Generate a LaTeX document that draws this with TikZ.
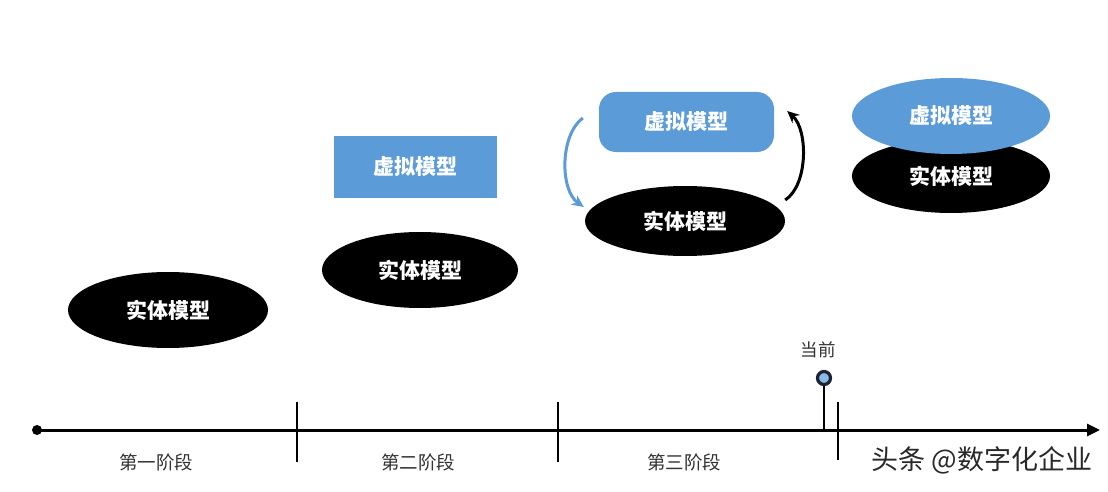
\documentclass[tikz,border=0pt]{standalone}
\usepackage{fontspec}
\setmainfont{Noto Sans CJK SC}
\usetikzlibrary{shapes.geometric,arrows.meta}
\definecolor{mblue}{HTML}{5B9BD8}
\definecolor{labgray}{HTML}{333333}
\definecolor{navy}{HTML}{1C2333}
\tikzset{
  realm/.style={ellipse, fill=black, text=white, minimum width=200pt, minimum height=76pt, inner sep=0pt, font=\fontsize{21}{21}\selectfont\bfseries},
  virt/.style={fill=mblue, text=white, inner sep=0pt, font=\fontsize{21}{21}\selectfont\bfseries},
  stagelab/.style={text=labgray, font=\fontsize{18.5}{18.5}\selectfont},
  axisline/.style={line width=3pt, -{Triangle[length=13pt,width=12pt]}},
  tick/.style={line width=2pt},
  loopar/.style={line width=3pt, -{Stealth[length=12pt,width=11pt]}},
}
\begin{document}
\begin{tikzpicture}[x=1pt,y=-1pt]
\useasboundingbox (0,0) rectangle (1108,492);
\fill[white] (0,0) rectangle (1108,492);

% timeline
\coordinate (tstart) at (37,430);
\coordinate (tend) at (1100,430);
\draw[axisline] (tstart) -- (tend);
\fill (tstart) circle (5pt);
\coordinate (t1a) at (297,402); \coordinate (t1b) at (297,462);
\coordinate (t2a) at (558,402); \coordinate (t2b) at (558,462);
\coordinate (t3a) at (838,402); \coordinate (t3b) at (838,460);
\draw[tick] (t1a) -- (t1b);
\draw[tick] (t2a) -- (t2b);
\draw[tick] (t3a) -- (t3b);

\node[stagelab] (s1) at (156,462) {第一阶段};
\node[stagelab] (s2) at (418,462) {第二阶段};
\node[stagelab] (s3) at (684,462) {第三阶段};

% current marker
\coordinate (cbase) at (824,430);
\node[circle, draw=navy, line width=3.2pt, fill=mblue!70!white, minimum size=13pt, inner sep=0pt] (cur) at (824,378) {};
\draw[line width=2pt] (cur.south) -- (cbase);
\node[stagelab, font=\fontsize{17.5}{17.5}\selectfont] (curlab) at (818,350) {当前};

% stage 1
\node[realm] (e1) at (168,310) {实体模型};

% stage 2
\node[virt, minimum width=163pt, minimum height=62pt] (v2) at (415.5,167) {虚拟模型};
\node[realm, minimum width=196pt] (e2) at (420,270) {实体模型};

% stage 3
\node[virt, rounded corners=17pt, minimum width=175pt, minimum height=60pt] (v3) at (686.5,122) {虚拟模型};
\node[realm, minimum height=70pt] (e3) at (685,221) {实体模型};
\draw[mblue, loopar]
  ([xshift=-16pt,yshift=4pt]v3.180) .. controls ([xshift=-39pt,yshift=-13pt]v3.180) and ([xshift=-25pt,yshift=31pt]e3.180) .. ([xshift=-1pt,yshift=14pt]e3.180);
\draw[black, loopar]
  ([yshift=21pt]e3.0) .. controls ([xshift=23pt,yshift=36pt]e3.0) and ([xshift=34pt,yshift=-8pt]v3.0) .. ([xshift=13pt,yshift=11pt]v3.0);

% stage 4
\node[realm, minimum width=198pt, minimum height=74pt] (e4) at (951,176) {实体模型};
\node[virt, ellipse, minimum width=198pt, minimum height=76pt] (v4) at (951,116) {虚拟模型};

% watermark
\node[text=labgray!80!black, font=\fontsize{27}{27}\selectfont, anchor=east] (wm) at (1096,460) {头条 @数字化企业};
\end{tikzpicture}
\end{document}
